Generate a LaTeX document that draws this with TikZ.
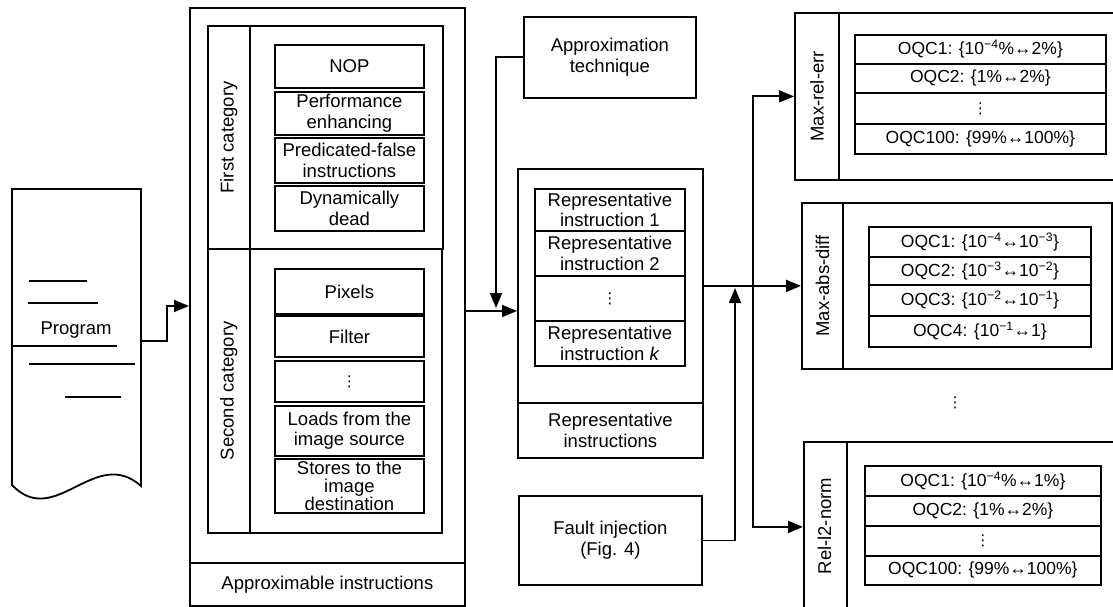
\documentclass[tikz,border=0pt]{standalone}
\usepackage{fontspec}
\setmainfont{Liberation Sans}
\newfontfamily\dotsfont{DejaVu Sans}
\usetikzlibrary{arrows.meta,positioning,calc}

\tikzset{
  box/.style={draw, line width=1.8pt, anchor=north west, inner sep=0pt, align=center,
    font=\fontsize{18.5}{20.5}\selectfont},
  lbl/.style={inner sep=0pt, align=center, font=\fontsize{18.5}{20.5}\selectfont},
  oqc/.style={box, font=\fontsize{17.5}{19}\selectfont},
  dotsbox/.style={box, font=\dotsfont\fontsize{15}{15}\selectfont},
  arr/.style={line width=1.8pt, -{Triangle[length=15pt,width=12pt]}},
}

\begin{document}
\begin{tikzpicture}[x=1pt,y=-1pt]
 \useasboundingbox (0,0) rectangle (1113,607);
 \fill[white] (0,0) rectangle (1113,607);
 \clip (0,0) rectangle (1113,607);

    % draw program
    \draw[line width=1.8pt] (12,189) -- (141,189) -- (141,486)
        .. controls (95,445) and (55,530) .. (12,485) -- cycle;
    \draw[line width=1.8pt] (29,281) -- (87,281);
    \draw[line width=1.8pt] (28,303) -- (98,303);
    \draw[line width=1.8pt] (12,346) -- (117,346);
    \draw[line width=1.8pt] (29,364) -- (135,364);
    \draw[line width=1.8pt] (65,397) -- (121,397);
    \node[lbl] (prog) at (76,330) {Program};
    \coordinate (progout) at (141,341);

    % draw approximable instructions
    \node[box, minimum width=275pt, minimum height=555pt] (apx) at (189,7) {};
    \node[box, minimum width=275pt, minimum height=43pt] (apxlbl) at (189,562) {Approximable instructions};

    % first category
    \node[box, minimum width=235pt, minimum height=223pt] (first) at (207,25) {};
    \node[box, minimum width=42pt, minimum height=223pt] (firststrip) at (207,25) {};
    \node[lbl, rotate=90] (firstlbl) at (firststrip.center) {First category};
    \node[box, minimum width=149pt, minimum height=43pt] (nop) at (274,44) {NOP};
    \node[box, minimum width=149pt, minimum height=43pt] (perf) at (274,91) {Performance\\enhancing};
    \node[box, minimum width=149pt, minimum height=45pt] (pred) at (274,137) {Predicated-false\\instructions};
    \node[box, minimum width=149pt, minimum height=45pt] (dyn) at (274,185) {Dynamically\\dead};

    % second category
    \node[box, minimum width=234pt, minimum height=284pt] (second) at (207,248) {};
    \node[box, minimum width=42pt, minimum height=284pt] (secondstrip) at (207,248) {};
    \node[lbl, rotate=90] (secondlbl) at (secondstrip.center) {Second category};
    \node[box, minimum width=149pt, minimum height=45pt] (pixels) at (274,268) {Pixels};
    \node[box, minimum width=149pt, minimum height=41pt] (filter) at (274,315) {Filter};
    \node[dotsbox, minimum width=149pt, minimum height=41pt] (catdots) at (274,360) {⋮};
    \node[box, minimum width=149pt, minimum height=50pt] (loads) at (274,405) {Loads from the\\image source};
    \node[box, minimum width=149pt, minimum height=54pt, font=\fontsize{18.5}{18}\selectfont] (stores) at (274,458) {Stores to the\\image\\destination};

    % approximation technique
    \node[box, minimum width=172pt, minimum height=81pt] (apt) at (523,16) {Approximation\\technique};

    % representative instructions
    \node[box, minimum width=185pt, minimum height=234pt] (rep) at (517,168) {};
    \node[box, minimum width=185pt, minimum height=55pt] (replbl) at (517,402) {Representative\\instructions};
    \node[box, minimum width=150pt, minimum height=42pt] (rep1) at (534,188) {Representative\\instruction 1};
    \node[box, minimum width=150pt, minimum height=45pt] (rep2) at (534,230) {Representative\\instruction 2};
    \node[dotsbox, minimum width=150pt, minimum height=45pt] (repdots) at (534,275) {⋮};
    \node[box, minimum width=150pt, minimum height=45pt] (repk) at (534,320) {Representative\\instruction \textit{k}};

    % fault injection
    \node[box, minimum width=183pt, minimum height=89pt] (fault) at (518,495) {Fault injection\\(Fig. 4)};

    % max-rel-err
    \node[box, minimum width=330pt, minimum height=167pt] (maxrel) at (794,12) {};
    \node[box, minimum width=44pt, minimum height=167pt] (maxrelstrip) at (794,12) {};
    \node[lbl, rotate=90] (maxrellbl) at (maxrelstrip.center) {Max-rel-err};
    \node[oqc, minimum width=251pt, minimum height=29pt] (mr1) at (854,34) {OQC1: \{10\textsuperscript{−4}\%↔2\%\}};
    \node[oqc, minimum width=251pt, minimum height=29pt] (mr2) at (854,63) {OQC2: \{1\%↔2\%\}};
    \node[dotsbox, minimum width=251pt, minimum height=31pt] (mrdots) at (854,92) {⋮};
    \node[oqc, minimum width=251pt, minimum height=30pt] (mr100) at (854,123) {OQC100: \{99\%↔100\%\}};

    % max-abs-diff
    \node[box, minimum width=310pt, minimum height=166pt] (maxabs) at (801,202) {};
    \node[box, minimum width=41pt, minimum height=166pt] (maxabsstrip) at (801,202) {};
    \node[lbl, rotate=90] (maxabslbl) at (maxabsstrip.center) {Max-abs-diff};
    \node[oqc, minimum width=222pt, minimum height=30pt] (ma1) at (868,226) {OQC1: \{10\textsuperscript{−4}↔10\textsuperscript{−3}\}};
    \node[oqc, minimum width=222pt, minimum height=28pt] (ma2) at (868,256) {OQC2: \{10\textsuperscript{−3}↔10\textsuperscript{−2}\}};
    \node[oqc, minimum width=222pt, minimum height=31pt] (ma3) at (868,284) {OQC3: \{10\textsuperscript{−2}↔10\textsuperscript{−1}\}};
    \node[oqc, minimum width=222pt, minimum height=31pt] (ma4) at (868,315) {OQC4: \{10\textsuperscript{−1}↔1\}};

    \node[lbl, font=\dotsfont\fontsize{15}{15}\selectfont] (metricdots) at (955,403) {⋮};

    % rel-l2-norm
    \node[box, minimum width=330pt, minimum height=170pt] (rell2) at (803,441) {};
    \node[box, minimum width=43pt, minimum height=170pt] (rell2strip) at (803,441) {};
    \node[lbl, rotate=90] (rell2lbl) at (824.5,526) {Rel-l2-norm};
    \node[oqc, minimum width=236pt, minimum height=30pt] (rl1) at (864,465) {OQC1: \{10\textsuperscript{−4}\%↔1\%\}};
    \node[oqc, minimum width=236pt, minimum height=30pt] (rl2) at (864,495) {OQC2: \{1\%↔2\%\}};
    \node[dotsbox, minimum width=236pt, minimum height=30pt] (rldots) at (864,525) {⋮};
    \node[oqc, minimum width=236pt, minimum height=29pt] (rl100) at (864,555) {OQC100: \{99\%↔100\%\}};

    % draw arrows
    \coordinate (apxin) at (189,306);
    \draw[arr] (progout) -- ++(26,0) |- (apxin);
    \coordinate (repin) at (517,311);
    \draw[arr] (apx.east |- repin) -- (repin);
    \coordinate (aptdown) at (496,308);
    \draw[arr] (apt.west) -| (aptdown);
    \draw[arr] (rep.east) -- (maxabs.west);
    \coordinate (split) at (753,285);
    \draw[arr] (split) |- (maxrel.west);
    \draw[arr] (split) |- (rell2.west);
    \coordinate (faultup) at (735,288);
    \draw[arr] (fault.east) -| (faultup);

\end{tikzpicture}
\end{document}
